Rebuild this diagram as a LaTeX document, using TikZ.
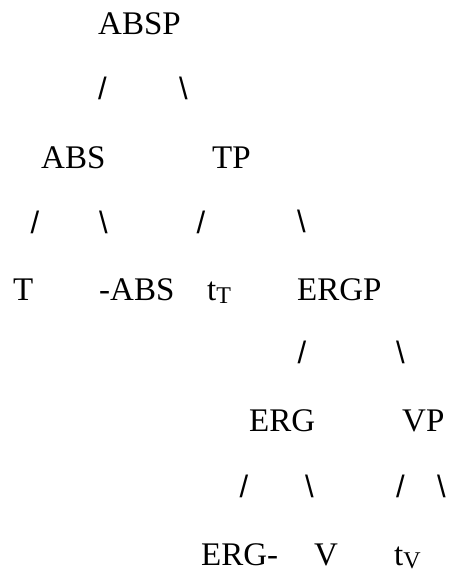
\documentclass[tikz,border=0pt]{standalone}
\usepackage{fontspec}
\setmainfont{Liberation Serif}
\newfontfamily\slashfont{Liberation Sans}
\begin{document}
\begin{tikzpicture}[x=1pt,y=-1pt,
  lbl/.style={anchor=base west,inner sep=0pt,font=\fontsize{33}{33}\selectfont},
  br/.style={anchor=center,inner sep=0pt,font=\slashfont\fontsize{31}{31}\selectfont}]
\useasboundingbox (0,0) rectangle (451,571);
\newcommand{\subT}[1]{\raisebox{-3pt}{\fontsize{24}{24}\selectfont #1}}
% labels
\node[lbl] (absp) at (98,34) {ABSP};
\node[lbl] (abs) at (41,168) {ABS};
\node[lbl] (tp) at (212,168) {TP};
\node[lbl] (t) at (13,300) {T};
\node[lbl] (mabs) at (99,300) {-ABS};
\node[lbl] (tt) at (207,300) {t\subT{T}};
\node[lbl] (ergp) at (297,300) {ERGP};
\node[lbl] (erg) at (249,431) {ERG};
\node[lbl] (vp) at (402,431) {VP};
\node[lbl] (ergm) at (201,565) {ERG-};
\node[lbl] (v) at (314,565) {V};
\node[lbl] (tv) at (394,565) {t\subT{V}};
% branch marks
\node[br] (s1) at (102.5,88) {/};
\node[br] (b1) at (183.5,88) {\textbackslash};
\node[br] (s2) at (35,222.5) {/};
\node[br] (b2) at (103.5,222.5) {\textbackslash};
\node[br] (s3) at (201,222.5) {/};
\node[br] (b3) at (301.5,221) {\textbackslash};
\node[br] (s4) at (302,352.5) {/};
\node[br] (b4) at (400.5,352.5) {\textbackslash};
\node[br] (s5) at (244,486) {/};
\node[br] (b5) at (309.5,486) {\textbackslash};
\node[br] (s6) at (400.5,486) {/};
\node[br] (b6) at (441.5,486) {\textbackslash};
\end{tikzpicture}
\end{document}
